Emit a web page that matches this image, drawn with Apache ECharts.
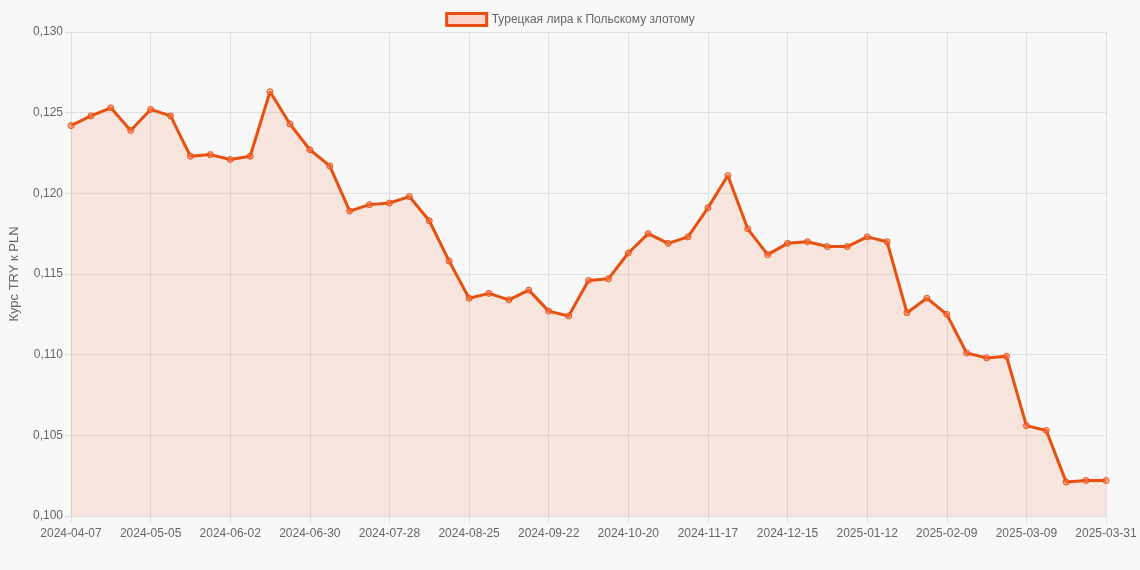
<!DOCTYPE html>
<html>
<head>
<meta charset="utf-8">
<script src="https://cdn.jsdelivr.net/npm/echarts@6/dist/echarts.min.js"></script>
<style>
  html, body { margin: 0; padding: 0; background: #f8f8f8; }
  #chart { width: 1140px; height: 570px; }
</style>
</head>
<body>
<div id="chart"></div>
<script>
// weekly dates, last point is 2025-03-31
var dates = [];
var d = new Date(Date.UTC(2024, 3, 7));
for (var k = 0; k < 52; k++) {
    dates.push(d.toISOString().slice(0, 10));
    d.setUTCDate(d.getUTCDate() + 7);
}
dates.push('2025-03-31');

var rates = [
    0.1242, 0.1248, 0.1253, 0.1239, 0.1252, 0.1248, 0.1223, 0.1224, 0.1221, 0.1223,
    0.1263, 0.1243, 0.1227, 0.1217, 0.1189, 0.1193, 0.1194, 0.1198, 0.1183, 0.1158,
    0.1135, 0.1138, 0.1134, 0.1140, 0.1127, 0.1124, 0.1146, 0.1147, 0.1163, 0.1175,
    0.1169, 0.1173, 0.1191, 0.1211, 0.1178, 0.1162, 0.1169, 0.1170, 0.1167, 0.1167,
    0.1173, 0.1170, 0.1126, 0.1135, 0.1125, 0.1101, 0.1098, 0.1099, 0.1056, 0.1053,
    0.1021, 0.1022, 0.1022
];

var seriesName = 'Турецкая лира к Польскому злотому';

var myChart = echarts.init(document.getElementById('chart'));

var option = {
    backgroundColor: '#f8f8f8',
    textStyle: { fontFamily: 'Arial, "Liberation Sans", sans-serif' },
    animation: false,
    legend: {
        top: 7,
        data: [seriesName],
        itemWidth: 40,
        itemHeight: 12,
        textStyle: { color: '#666', fontSize: 12 },
        icon: 'rect',
        itemStyle: { color: 'rgba(249,80,18,0.2)', borderColor: '#e8500f', borderWidth: 3 }
    },
    grid: { left: 59, right: 34, top: 32, bottom: 54 },
    xAxis: {
        type: 'category',
        boundaryGap: false,
        data: dates,
        axisLine: { lineStyle: { color: '#ddd' } },
        axisTick: { show: true, interval: 3, length: 6, lineStyle: { color: '#ddd' } },
        axisLabel: { interval: 3, color: '#666', fontSize: 12, margin: 12 },
        splitLine: { show: true, interval: 3, lineStyle: { color: '#e0e0e0' } }
    },
    yAxis: {
        type: 'value',
        min: 0.1,
        max: 0.13,
        interval: 0.005,
        name: 'Курс TRY к PLN',
        nameLocation: 'middle',
        nameGap: 50,
        nameTextStyle: { color: '#666', fontSize: 13 },
        axisLine: { show: true, lineStyle: { color: '#ddd' } },
        axisTick: { show: true, length: 6, lineStyle: { color: '#ddd' } },
        axisLabel: {
            color: '#666', fontSize: 12,
            formatter: function (v) { return v.toFixed(3).replace('.', ','); }
        },
        splitLine: { lineStyle: { color: '#e0e0e0' } }
    },
    series: [{
        name: seriesName,
        type: 'line',
        data: rates,
        symbol: 'circle',
        symbolSize: 6,
        showAllSymbol: true,
        lineStyle: { color: '#e8500f', width: 3 },
        itemStyle: { color: 'rgba(249,120,80,0.5)', borderColor: '#e8500f', borderWidth: 1 },
        areaStyle: { color: 'rgba(240,110,60,0.2)' }
    }]
};

myChart.setOption(option);
</script>
</body>
</html>
